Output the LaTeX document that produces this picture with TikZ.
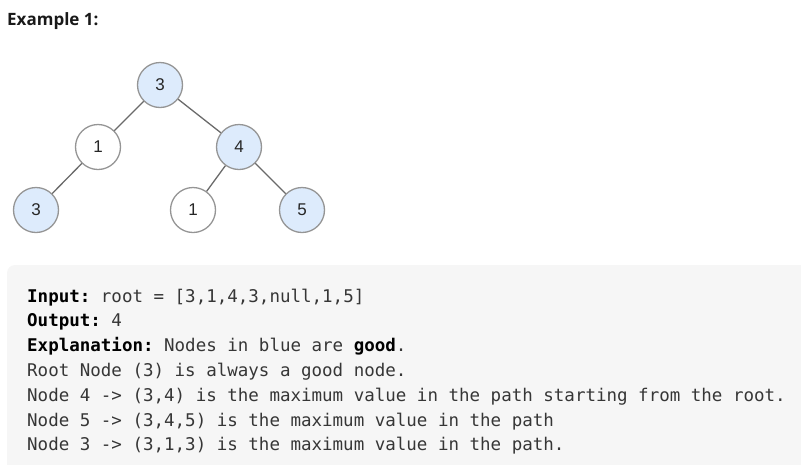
\documentclass[tikz,border=0pt]{standalone}
\usepackage{fontspec}
\usepackage{tikz}
\usetikzlibrary{calc}
\newfontfamily\codefont{DejaVu Sans Mono}
\newfontfamily\treefont{Liberation Sans}
\newfontfamily\titlefont{Open Sans}
\definecolor{goodblue}{HTML}{DDEBFC}
\definecolor{ringgray}{HTML}{959595}
\definecolor{edgegray}{HTML}{6A6A6A}
\definecolor{codebg}{HTML}{F6F6F6}
\definecolor{codetext}{HTML}{363636}
\tikzset{
  treenode/.style={circle,draw=ringgray,line width=1.3pt,minimum size=45pt,inner sep=0pt,
    font=\treefont\fontsize{17}{17}\selectfont,text=black!85},
  good/.style={treenode,fill=goodblue},
  plain/.style={treenode,fill=white},
  edge/.style={draw=edgegray,line width=1.3pt},
  codeline/.style={anchor=base west,inner sep=0pt,text=codetext,
    font=\codefont\fontsize{17.5}{17.5}\selectfont}
}
\begin{document}
\frenchspacing
\begin{tikzpicture}[x=1pt,y=-1pt]
            \useasboundingbox (0,0) rectangle (801,464);
            \clip (0,0) rectangle (801,464);
            \node[anchor=base west,inner sep=0pt,font=\titlefont\bfseries\fontsize{17}{17}\selectfont,text=black!90] (title) at (7,25) {Example 1:};
            % tree
            \node[good] (r) at (160,85) {3};
            \node[plain] (a) at (98,147) {1};
            \node[good] (b) at (239,147) {4};
            \node[good] (aa) at (36,210) {3};
            \node[plain] (ba) at (193,210) {1};
            \node[good] (bb) at (302,210) {5};
            \draw[edge] (r) -- (a);
            \draw[edge] (r) -- (b);
            \draw[edge] (a) -- (aa);
            \draw[edge] (b) -- (ba);
            \draw[edge] (b) -- (bb);
            % explanation box
            \fill[codebg,rounded corners=8pt] (7,265) rectangle (830,490);
            \foreach \t [count=\i] in {
                {\textbf{\color{black}Input:} root = [3,1,4,3,null,1,5]},
                {\textbf{\color{black}Output:} 4},
                {\textbf{\color{black}Explanation:} Nodes in blue are \textbf{\color{black}good}.},
                {Root Node (3) is always a good node.},
                {Node 4 -> (3,4) is the maximum value in the path starting from the root.},
                {Node 5 -> (3,4,5) is the maximum value in the path},
                {Node 3 -> (3,1,3) is the maximum value in the path.}}
                \node[codeline] (line\i) at (27,{302+24.8*(\i-1)}) {\t};
        \end{tikzpicture}
\end{document}
